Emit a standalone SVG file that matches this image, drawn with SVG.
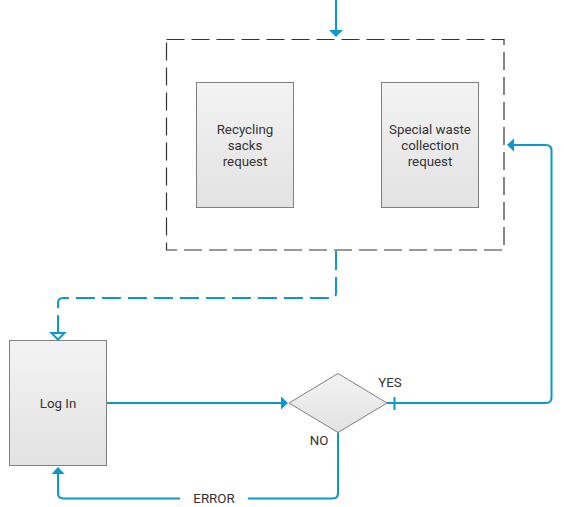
<svg xmlns="http://www.w3.org/2000/svg" width="564" height="507" viewBox="0 0 564 507">
<style>
.node{stroke:#808080;stroke-width:1;fill:url(#g)}
.lbl{font-family:Roboto,"Liberation Sans",Arial,sans-serif;font-size:13.3px;fill:#333;text-anchor:middle}
.c{fill:none;stroke:#0b98cd;stroke-width:2}
.d{stroke-dasharray:19 7}
</style>
<defs>
<linearGradient id="g" x1="0" y1="0" x2="0" y2="1">
<stop offset="0" stop-color="#f3f3f3"/>
<stop offset="1" stop-color="#e2e2e2"/>
</linearGradient>
</defs>
<rect width="564" height="507" fill="#fff"/>
<g id="container">
<rect x="166.5" y="39.5" width="337.5" height="210.5" fill="none" stroke="#333" stroke-width="1.2" stroke-dasharray="18 7"/>
</g>
<g id="recycling">
<rect class="node" x="196.5" y="82.5" width="97" height="125"/>
<text class="lbl" x="245" y="134">Recycling</text>
<text class="lbl" x="245" y="150">sacks</text>
<text class="lbl" x="245" y="166">request</text>
</g>
<g id="special">
<rect class="node" x="381.5" y="82.5" width="97" height="125"/>
<text class="lbl" x="430" y="134">Special waste</text>
<text class="lbl" x="430" y="150">collection</text>
<text class="lbl" x="430" y="166">request</text>
</g>
<g id="login">
<rect class="node" x="9.5" y="340.5" width="97" height="125"/>
<text class="lbl" x="58" y="408">Log In</text>
</g>
<g id="decision">
<polygon class="node" points="289,403 338,373.5 387,403 338,432.5"/>
</g>
<g id="connectors">
<path class="c" d="M336,0 V31"/>
<polygon points="329,30 343,30 336,37" fill="#0b98cd"/>
<path class="c d" d="M336,251 V293 Q336,298 331,298 H63 Q58,298 58,303 V333"/>
<polygon points="51.5,333 64.5,333 58,339.5" fill="#fff" stroke="#0b98cd" stroke-width="2" stroke-linejoin="miter"/>
<path class="c" d="M107,403 H281"/>
<polygon points="281,396.5 288,403 281,409.5" fill="#0b98cd"/>
<path class="c" d="M387,403 H546 Q551.5,403 551.5,397.5 V150.5 Q551.5,145 546,145 H513"/>
<path class="c" d="M394.5,397 V410"/>
<polygon points="514,138.5 507,145 514,151.5" fill="#0b98cd"/>
<path class="c" d="M338,432.5 V493 Q338,498.5 332.5,498.5 H63.5 Q58,498.5 58,493 V473"/>
<polygon points="51.5,474 64.5,474 58,467" fill="#0b98cd"/>
<rect x="180" y="490" width="68" height="16" fill="#fff"/>
<text class="lbl" x="214" y="503">ERROR</text>
<text class="lbl" x="390" y="387">YES</text>
<text class="lbl" x="319" y="445">NO</text>
</g>
</svg>
